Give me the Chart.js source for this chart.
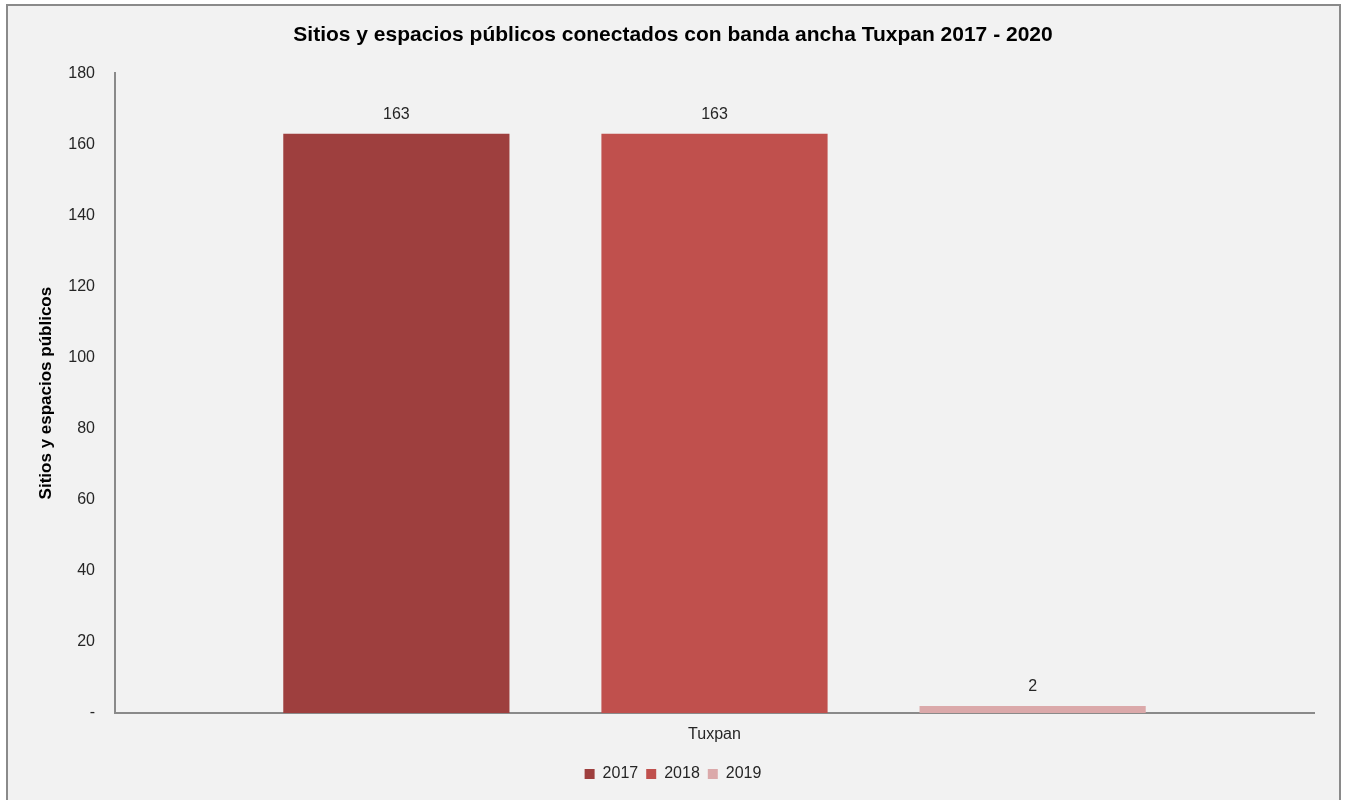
<!DOCTYPE html>
<html>
<head>
<meta charset="utf-8">
<script src="https://cdn.jsdelivr.net/npm/chart.js@4"></script>
<style>
  body { margin: 0; background: #ffffff; overflow: hidden; }
  #frame {
    position: absolute; left: 6px; top: 4px;
    width: 1331px; height: 800px;
    border: 2px solid #8a8a8a; border-bottom: none;
    background: #f2f2f2;
  }
</style>
</head>
<body>
<div id="frame"><canvas id="chart" width="1331" height="794"></canvas></div>
<script>
// datos del gráfico
const categories = ['Tuxpan'];
const years = ['2017', '2018', '2019'];
const values2017 = [163];
const values2018 = [163];
const values2019 = [2];
const barColors = ['#9e3f3e', '#c0504d', '#dba9aa'];
const yTicks = [0, 20, 40, 60, 80, 100, 120, 140, 160, 180];

const FONT = 'Arial, "Liberation Sans", sans-serif';

// etiquetas de valor encima de cada barra
const valueLabels = {
  id: 'valueLabels',
  afterDatasetsDraw(chart) {
    const ctx = chart.ctx;
    ctx.save();
    ctx.font = '16px ' + FONT;
    ctx.fillStyle = '#262626';
    ctx.textAlign = 'center';
    ctx.textBaseline = 'middle';
    chart.data.datasets.forEach((ds, i) => {
      chart.getDatasetMeta(i).data.forEach((bar, j) => {
        ctx.fillText(ds.data[j], bar.x, bar.y - 19);
      });
    });
    ctx.restore();
  }
};

const ctx = document.getElementById('chart');
new Chart(ctx, {
  type: 'bar',
  data: {
    labels: categories,
    datasets: [
      { label: years[0], data: values2017, backgroundColor: barColors[0] },
      { label: years[1], data: values2018, backgroundColor: barColors[1] },
      { label: years[2], data: values2019, backgroundColor: barColors[2] }
    ]
  },
  options: {
    responsive: false,
    animation: false,
    categoryPercentage: 0.796,
    barPercentage: 0.711,
    layout: { padding: { left: 24, right: 25, top: 0, bottom: 8 } },
    plugins: {
      title: {
        display: true,
        text: 'Sitios y espacios públicos conectados con banda ancha Tuxpan 2017 - 2020',
        color: '#000000',
        font: { family: FONT, size: 21, weight: 'bold' },
        padding: { top: 17, bottom: 25 }
      },
      legend: {
        position: 'bottom',
        labels: {
          color: '#262626',
          font: { family: FONT, size: 16 },
          boxWidth: 10,
          boxHeight: 10,
          padding: 8
        }
      },
      tooltip: { enabled: false }
    },
    scales: {
      x: {
        grid: { display: false, drawTicks: false },
        border: { color: '#8a8a8a', width: 2 },
        ticks: { color: '#262626', font: { family: FONT, size: 16 }, padding: 12 },
        afterFit(scale) { scale.height = 45; }
      },
      y: {
        min: 0,
        max: 180,
        afterBuildTicks(scale) { scale.ticks = yTicks.map(v => ({ value: v })); },
        grid: { display: false, drawTicks: false },
        border: { color: '#8a8a8a', width: 2 },
        ticks: {
          color: '#262626',
          font: { family: FONT, size: 16 },
          padding: 20,
          callback: v => v === 0 ? '-' : v
        },
        title: {
          display: true,
          text: 'Sitios y espacios públicos',
          color: '#000000',
          font: { family: FONT, size: 17, weight: 'bold' },
          padding: { top: 4, bottom: 0 }
        },
        afterFit(scale) { scale.width = 83; }
      }
    }
  },
  plugins: [valueLabels]
});
</script>
</body>
</html>
